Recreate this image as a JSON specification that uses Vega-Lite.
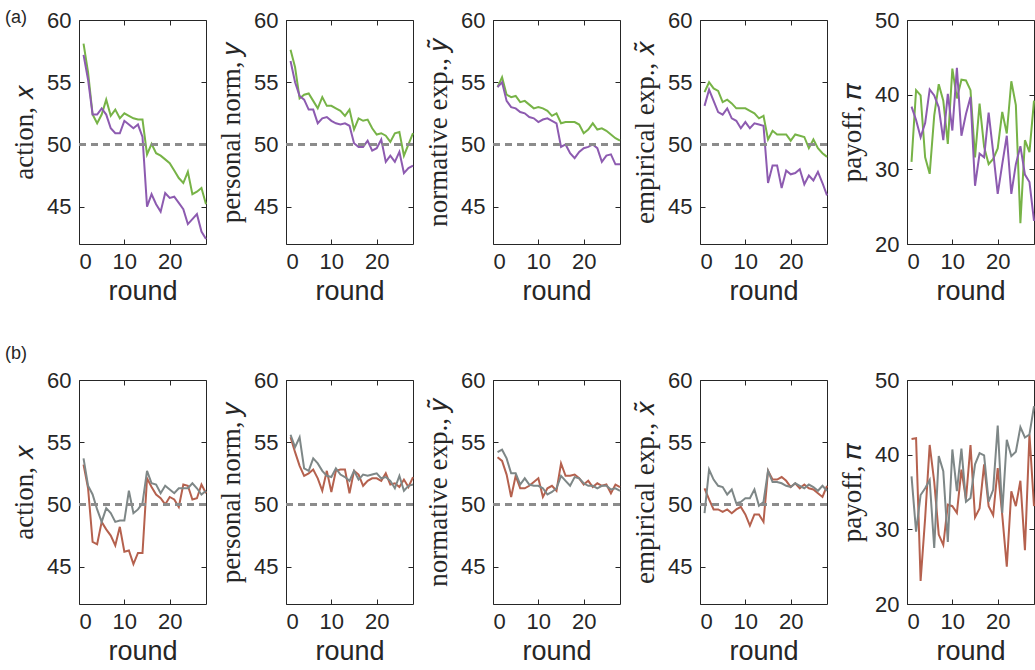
{
"$schema":"https://vega.github.io/schema/vega-lite/v6.json",
"autosize":{"type":"pad"},
"padding":{"left":4,"top":8,"right":0,"bottom":0},
"background":"white",
"datasets":{
"one":[{"k":1}],
"a1":[{"r":1,"a":58.1,"b":57.2},{"r":2,"a":55.8,"b":55.2},{"r":3,"a":52.4,"b":52.4},{"r":4,"a":51.7,"b":52.4},{"r":5,"a":52.4,"b":52.9},{"r":6,"a":53.6,"b":52.4},{"r":7,"a":52.3,"b":51.3},{"r":8,"a":52.8,"b":50.9},{"r":9,"a":52.1,"b":50.9},{"r":10,"a":52.5,"b":51.9},{"r":11,"a":52.3,"b":51.6},{"r":12,"a":52.1,"b":51.3},{"r":13,"a":52.0,"b":51.6},{"r":14,"a":52.0,"b":50.6},{"r":15,"a":49.2,"b":45.0},{"r":16,"a":50.05,"b":46.0},{"r":17,"a":49.3,"b":45.2},{"r":18,"a":49.1,"b":44.6},{"r":19,"a":48.8,"b":46.1},{"r":20,"a":48.5,"b":45.7},{"r":21,"a":47.9,"b":45.8},{"r":22,"a":47.3,"b":45.3},{"r":23,"a":46.9,"b":44.8},{"r":24,"a":47.8,"b":43.6},{"r":25,"a":46.0,"b":44.0},{"r":26,"a":46.2,"b":44.4},{"r":27,"a":46.5,"b":43.0},{"r":28,"a":45.2,"b":42.4}],
"a2":[{"r":1,"a":57.6,"b":56.7},{"r":2,"a":56.2,"b":55.0},{"r":3,"a":53.7,"b":53.9},{"r":4,"a":54.0,"b":53.6},{"r":5,"a":54.1,"b":52.8},{"r":6,"a":53.5,"b":52.8},{"r":7,"a":52.9,"b":51.7},{"r":8,"a":53.8,"b":52.1},{"r":9,"a":53.1,"b":52.2},{"r":10,"a":53.1,"b":51.9},{"r":11,"a":52.9,"b":51.7},{"r":12,"a":52.7,"b":51.6},{"r":13,"a":52.3,"b":51.7},{"r":14,"a":52.8,"b":51.5},{"r":15,"a":51.2,"b":50.1},{"r":16,"a":52.1,"b":49.8},{"r":17,"a":51.9,"b":49.8},{"r":18,"a":52.0,"b":50.3},{"r":19,"a":51.3,"b":49.5},{"r":20,"a":50.8,"b":49.7},{"r":21,"a":50.9,"b":50.4},{"r":22,"a":50.7,"b":48.6},{"r":23,"a":50.2,"b":49.1},{"r":24,"a":50.9,"b":48.6},{"r":25,"a":51.0,"b":49.4},{"r":26,"a":49.1,"b":47.7},{"r":27,"a":50.0,"b":48.1},{"r":28,"a":50.9,"b":48.3}],
"a3":[{"r":1,"a":54.6,"b":54.6},{"r":2,"a":55.4,"b":55.0},{"r":3,"a":54.0,"b":53.5},{"r":4,"a":53.8,"b":53.0},{"r":5,"a":53.9,"b":52.9},{"r":6,"a":53.4,"b":52.6},{"r":7,"a":53.5,"b":52.5},{"r":8,"a":53.2,"b":52.2},{"r":9,"a":52.9,"b":52.1},{"r":10,"a":53.0,"b":51.8},{"r":11,"a":52.9,"b":52.0},{"r":12,"a":52.7,"b":52.1},{"r":13,"a":52.3,"b":51.9},{"r":14,"a":52.5,"b":51.7},{"r":15,"a":51.7,"b":49.8},{"r":16,"a":51.8,"b":50.0},{"r":17,"a":51.8,"b":49.3},{"r":18,"a":51.8,"b":48.9},{"r":19,"a":51.6,"b":49.4},{"r":20,"a":50.9,"b":49.7},{"r":21,"a":51.2,"b":49.8},{"r":22,"a":51.7,"b":50.0},{"r":23,"a":51.2,"b":49.7},{"r":24,"a":51.3,"b":48.6},{"r":25,"a":51.1,"b":49.1},{"r":26,"a":50.8,"b":49.2},{"r":27,"a":50.5,"b":48.4},{"r":28,"a":50.3,"b":48.4}],
"a4":[{"r":1,"a":54.2,"b":53.1},{"r":2,"a":55.0,"b":54.4},{"r":3,"a":54.5,"b":53.5},{"r":4,"a":54.3,"b":52.6},{"r":5,"a":53.4,"b":52.4},{"r":6,"a":53.6,"b":52.9},{"r":7,"a":53.3,"b":52.1},{"r":8,"a":52.9,"b":51.9},{"r":9,"a":52.9,"b":51.3},{"r":10,"a":52.9,"b":51.8},{"r":11,"a":52.7,"b":51.3},{"r":12,"a":52.5,"b":51.7},{"r":13,"a":52.1,"b":51.6},{"r":14,"a":52.3,"b":51.5},{"r":15,"a":50.4,"b":46.9},{"r":16,"a":51.1,"b":48.3},{"r":17,"a":50.8,"b":48.3},{"r":18,"a":50.8,"b":46.5},{"r":19,"a":50.8,"b":47.9},{"r":20,"a":50.3,"b":47.6},{"r":21,"a":50.8,"b":47.7},{"r":22,"a":50.7,"b":48.0},{"r":23,"a":50.6,"b":46.8},{"r":24,"a":49.7,"b":47.5},{"r":25,"a":50.4,"b":47.1},{"r":26,"a":49.7,"b":47.8},{"r":27,"a":49.3,"b":46.9},{"r":28,"a":49.0,"b":45.9}],
"a5":[{"r":1,"a":31.0,"b":38.4},{"r":2,"a":40.6,"b":36.6},{"r":3,"a":39.9,"b":34.3},{"r":4,"a":31.6,"b":36.2},{"r":5,"a":29.4,"b":40.7},{"r":6,"a":37.2,"b":39.9},{"r":7,"a":41.4,"b":38.3},{"r":8,"a":39.2,"b":33.9},{"r":9,"a":33.4,"b":40.1},{"r":10,"a":43.5,"b":35.2},{"r":11,"a":39.5,"b":43.6},{"r":12,"a":42.0,"b":34.5},{"r":13,"a":41.9,"b":37.4},{"r":14,"a":40.6,"b":39.7},{"r":15,"a":31.6,"b":27.8},{"r":16,"a":38.8,"b":32.1},{"r":17,"a":33.0,"b":31.6},{"r":18,"a":30.7,"b":37.6},{"r":19,"a":31.4,"b":32.3},{"r":20,"a":32.8,"b":26.7},{"r":21,"a":37.7,"b":30.7},{"r":22,"a":34.8,"b":34.5},{"r":23,"a":41.8,"b":26.7},{"r":24,"a":38.6,"b":30.7},{"r":25,"a":22.8,"b":33.1},{"r":26,"a":33.9,"b":29.3},{"r":27,"a":32.3,"b":28.3},{"r":28,"a":39.2,"b":23.1}],
"b1":[{"r":1,"a":53.2,"b":53.7},{"r":2,"a":51.3,"b":51.5},{"r":3,"a":47.0,"b":50.8},{"r":4,"a":46.8,"b":49.6},{"r":5,"a":48.6,"b":48.6},{"r":6,"a":48.0,"b":49.7},{"r":7,"a":47.5,"b":49.3},{"r":8,"a":46.7,"b":48.6},{"r":9,"a":48.2,"b":48.7},{"r":10,"a":46.2,"b":48.7},{"r":11,"a":46.3,"b":51.1},{"r":12,"a":45.2,"b":49.3},{"r":13,"a":46.1,"b":49.6},{"r":14,"a":46.1,"b":50.1},{"r":15,"a":52.1,"b":52.7},{"r":16,"a":51.4,"b":51.7},{"r":17,"a":50.8,"b":51.6},{"r":18,"a":50.5,"b":50.9},{"r":19,"a":50.0,"b":51.5},{"r":20,"a":50.6,"b":51.2},{"r":21,"a":50.4,"b":50.9},{"r":22,"a":49.8,"b":51.3},{"r":23,"a":51.6,"b":51.3},{"r":24,"a":51.5,"b":51.3},{"r":25,"a":50.4,"b":51.7},{"r":26,"a":50.5,"b":51.3},{"r":27,"a":51.6,"b":50.8},{"r":28,"a":50.9,"b":51.1}],
"b2":[{"r":1,"a":55.4,"b":55.6},{"r":2,"a":54.2,"b":54.6},{"r":3,"a":53.1,"b":55.4},{"r":4,"a":52.3,"b":52.9},{"r":5,"a":52.5,"b":52.7},{"r":6,"a":52.8,"b":53.7},{"r":7,"a":52.1,"b":53.3},{"r":8,"a":51.1,"b":52.7},{"r":9,"a":52.7,"b":52.3},{"r":10,"a":51.0,"b":52.2},{"r":11,"a":52.7,"b":52.9},{"r":12,"a":52.8,"b":52.4},{"r":13,"a":52.8,"b":52.2},{"r":14,"a":50.9,"b":51.9},{"r":15,"a":52.7,"b":52.7},{"r":16,"a":52.4,"b":52.0},{"r":17,"a":51.5,"b":52.4},{"r":18,"a":51.9,"b":52.3},{"r":19,"a":52.1,"b":52.4},{"r":20,"a":52.1,"b":52.5},{"r":21,"a":51.9,"b":52.1},{"r":22,"a":52.5,"b":52.2},{"r":23,"a":51.6,"b":51.9},{"r":24,"a":51.7,"b":51.3},{"r":25,"a":51.4,"b":52.3},{"r":26,"a":52.0,"b":51.1},{"r":27,"a":51.4,"b":51.5},{"r":28,"a":52.2,"b":51.6}],
"b3":[{"r":1,"a":53.8,"b":54.2},{"r":2,"a":53.5,"b":54.4},{"r":3,"a":52.4,"b":53.7},{"r":4,"a":50.6,"b":52.5},{"r":5,"a":52.3,"b":52.5},{"r":6,"a":51.3,"b":51.6},{"r":7,"a":51.3,"b":52.1},{"r":8,"a":51.5,"b":51.6},{"r":9,"a":51.8,"b":51.5},{"r":10,"a":52.1,"b":51.5},{"r":11,"a":50.6,"b":51.3},{"r":12,"a":51.3,"b":50.8},{"r":13,"a":51.5,"b":51.0},{"r":14,"a":51.1,"b":51.3},{"r":15,"a":53.3,"b":52.3},{"r":16,"a":52.3,"b":51.9},{"r":17,"a":52.3,"b":51.5},{"r":18,"a":52.4,"b":52.2},{"r":19,"a":52.1,"b":52.1},{"r":20,"a":51.6,"b":51.7},{"r":21,"a":51.9,"b":51.5},{"r":22,"a":51.4,"b":51.5},{"r":23,"a":51.7,"b":51.3},{"r":24,"a":51.5,"b":51.5},{"r":25,"a":51.6,"b":51.5},{"r":26,"a":50.9,"b":51.2},{"r":27,"a":51.6,"b":51.3},{"r":28,"a":51.4,"b":51.1}],
"b4":[{"r":1,"a":51.3,"b":49.3},{"r":2,"a":50.4,"b":52.8},{"r":3,"a":49.6,"b":52.0},{"r":4,"a":49.6,"b":51.5},{"r":5,"a":49.4,"b":51.4},{"r":6,"a":49.6,"b":50.8},{"r":7,"a":49.3,"b":51.2},{"r":8,"a":49.6,"b":50.1},{"r":9,"a":49.8,"b":50.2},{"r":10,"a":49.2,"b":50.5},{"r":11,"a":48.3,"b":50.5},{"r":12,"a":49.2,"b":51.2},{"r":13,"a":49.2,"b":49.9},{"r":14,"a":48.6,"b":50.2},{"r":15,"a":52.7,"b":52.7},{"r":16,"a":52.0,"b":51.8},{"r":17,"a":52.0,"b":51.8},{"r":18,"a":52.2,"b":51.7},{"r":19,"a":51.9,"b":51.5},{"r":20,"a":51.4,"b":51.4},{"r":21,"a":51.7,"b":51.7},{"r":22,"a":51.3,"b":51.5},{"r":23,"a":51.6,"b":51.3},{"r":24,"a":51.3,"b":51.6},{"r":25,"a":51.2,"b":51.4},{"r":26,"a":50.9,"b":51.1},{"r":27,"a":50.6,"b":51.5},{"r":28,"a":51.5,"b":51.1}],
"b5":[{"r":1,"a":42.1,"b":37.1},{"r":2,"a":42.2,"b":29.7},{"r":3,"a":23.1,"b":34.6},{"r":4,"a":31.5,"b":35.5},{"r":5,"a":41.3,"b":36.6},{"r":6,"a":36.4,"b":27.5},{"r":7,"a":29.3,"b":39.8},{"r":8,"a":27.9,"b":37.8},{"r":9,"a":33.3,"b":28.3},{"r":10,"a":33.1,"b":40.7},{"r":11,"a":32.2,"b":35.1},{"r":12,"a":38.0,"b":40.8},{"r":13,"a":34.0,"b":33.7},{"r":14,"a":41.3,"b":34.2},{"r":15,"a":31.6,"b":38.7},{"r":16,"a":32.8,"b":40.2},{"r":17,"a":38.7,"b":39.9},{"r":18,"a":33.1,"b":33.7},{"r":19,"a":31.9,"b":35.3},{"r":20,"a":38.2,"b":43.9},{"r":21,"a":31.9,"b":32.2},{"r":22,"a":25.0,"b":42.0},{"r":23,"a":35.1,"b":39.8},{"r":24,"a":33.1,"b":40.4},{"r":25,"a":36.5,"b":43.7},{"r":26,"a":27.2,"b":42.3},{"r":27,"a":42.7,"b":42.7},{"r":28,"a":33.1,"b":46.5}]
},
"columns":5,
"spacing":{"row":136,"column":80},
"bounds":"flush",
"concat":[
{"width":127,"height":224,"data":{"name":"a1"},"resolve":{"axis":{"x":"independent","y":"independent"}},
 "layer":[
 {"mark":{"type":"line","color":"#77B347","strokeWidth":2},"encoding":{"x":{"field":"r","type":"quantitative","scale":{"domain":[0,28],"nice":false},"axis":{"values":[0,10,20]},"title":"round"},"y":{"field":"a","type":"quantitative","scale":{"domain":[42,60],"nice":false},"axis":{"values":[45,50,55,60]},"title":"action, 𝑥"}}},
 {"mark":{"type":"line","color":"#8D5BB0","strokeWidth":2},"encoding":{"x":{"field":"r","type":"quantitative","axis":{"orient":"top","labels":false,"values":[0,10,20],"title":null}},"y":{"field":"b","type":"quantitative","axis":{"orient":"right","labels":false,"values":[45,50,55,60],"title":null}}}},
 {"mark":{"type":"rule","color":"#8C8C8C","strokeWidth":2,"strokeDash":[7,5]},"encoding":{"y":{"datum":50,"axis":null}}},
 {"data":{"name":"one"},"mark":{"type":"text","text":"(a)","align":"left","baseline":"alphabetic","fontSize":18,"font":"Liberation Sans","color":"#262626"},"encoding":{"x":{"datum":-16.3,"axis":null},"y":{"datum":59.76,"axis":null}}}
 ]},
{"width":127,"height":224,"data":{"name":"a2"},"resolve":{"axis":{"x":"independent","y":"independent"}},
 "layer":[
 {"mark":{"type":"line","color":"#77B347","strokeWidth":2},"encoding":{"x":{"field":"r","type":"quantitative","scale":{"domain":[0,28],"nice":false},"axis":{"values":[0,10,20]},"title":"round"},"y":{"field":"a","type":"quantitative","scale":{"domain":[42,60],"nice":false},"axis":{"values":[45,50,55,60]},"title":"personal norm, 𝑦"}}},
 {"mark":{"type":"line","color":"#8D5BB0","strokeWidth":2},"encoding":{"x":{"field":"r","type":"quantitative","axis":{"orient":"top","labels":false,"values":[0,10,20],"title":null}},"y":{"field":"b","type":"quantitative","axis":{"orient":"right","labels":false,"values":[45,50,55,60],"title":null}}}},
 {"mark":{"type":"rule","color":"#8C8C8C","strokeWidth":2,"strokeDash":[7,5]},"encoding":{"y":{"datum":50,"axis":null}}}
 ]},
{"width":127,"height":224,"data":{"name":"a3"},"resolve":{"axis":{"x":"independent","y":"independent"}},
 "layer":[
 {"mark":{"type":"line","color":"#77B347","strokeWidth":2},"encoding":{"x":{"field":"r","type":"quantitative","scale":{"domain":[0,28],"nice":false},"axis":{"values":[0,10,20]},"title":"round"},"y":{"field":"a","type":"quantitative","scale":{"domain":[42,60],"nice":false},"axis":{"values":[45,50,55,60]},"title":"normative exp., 𝑦̃"}}},
 {"mark":{"type":"line","color":"#8D5BB0","strokeWidth":2},"encoding":{"x":{"field":"r","type":"quantitative","axis":{"orient":"top","labels":false,"values":[0,10,20],"title":null}},"y":{"field":"b","type":"quantitative","axis":{"orient":"right","labels":false,"values":[45,50,55,60],"title":null}}}},
 {"mark":{"type":"rule","color":"#8C8C8C","strokeWidth":2,"strokeDash":[7,5]},"encoding":{"y":{"datum":50,"axis":null}}}
 ]},
{"width":127,"height":224,"data":{"name":"a4"},"resolve":{"axis":{"x":"independent","y":"independent"}},
 "layer":[
 {"mark":{"type":"line","color":"#77B347","strokeWidth":2},"encoding":{"x":{"field":"r","type":"quantitative","scale":{"domain":[0,28],"nice":false},"axis":{"values":[0,10,20]},"title":"round"},"y":{"field":"a","type":"quantitative","scale":{"domain":[42,60],"nice":false},"axis":{"values":[45,50,55,60]},"title":"empirical exp., 𝑥̃"}}},
 {"mark":{"type":"line","color":"#8D5BB0","strokeWidth":2},"encoding":{"x":{"field":"r","type":"quantitative","axis":{"orient":"top","labels":false,"values":[0,10,20],"title":null}},"y":{"field":"b","type":"quantitative","axis":{"orient":"right","labels":false,"values":[45,50,55,60],"title":null}}}},
 {"mark":{"type":"rule","color":"#8C8C8C","strokeWidth":2,"strokeDash":[7,5]},"encoding":{"y":{"datum":50,"axis":null}}}
 ]},
{"width":127,"height":224,"data":{"name":"a5"},"resolve":{"axis":{"x":"independent","y":"independent"}},
 "layer":[
 {"mark":{"type":"line","color":"#77B347","strokeWidth":2},"encoding":{"x":{"field":"r","type":"quantitative","scale":{"domain":[0,28],"nice":false},"axis":{"values":[0,10,20]},"title":"round"},"y":{"field":"a","type":"quantitative","scale":{"domain":[20,50],"nice":false},"axis":{"values":[20,30,40,50]},"title":"payoff, 𝜋"}}},
 {"mark":{"type":"line","color":"#8D5BB0","strokeWidth":2},"encoding":{"x":{"field":"r","type":"quantitative","axis":{"orient":"top","labels":false,"values":[0,10,20],"title":null}},"y":{"field":"b","type":"quantitative","axis":{"orient":"right","labels":false,"values":[20,30,40,50],"title":null}}}}
 ]},
{"width":127,"height":224,"data":{"name":"b1"},"resolve":{"axis":{"x":"independent","y":"independent"}},
 "layer":[
 {"mark":{"type":"line","color":"#B5614E","strokeWidth":2},"encoding":{"x":{"field":"r","type":"quantitative","scale":{"domain":[0,28],"nice":false},"axis":{"values":[0,10,20]},"title":"round"},"y":{"field":"a","type":"quantitative","scale":{"domain":[42,60],"nice":false},"axis":{"values":[45,50,55,60]},"title":"action, 𝑥"}}},
 {"mark":{"type":"line","color":"#7E8787","strokeWidth":2},"encoding":{"x":{"field":"r","type":"quantitative","axis":{"orient":"top","labels":false,"values":[0,10,20],"title":null}},"y":{"field":"b","type":"quantitative","axis":{"orient":"right","labels":false,"values":[45,50,55,60],"title":null}}}},
 {"mark":{"type":"rule","color":"#8C8C8C","strokeWidth":2,"strokeDash":[7,5]},"encoding":{"y":{"datum":50,"axis":null}}},
 {"data":{"name":"one"},"mark":{"type":"text","text":"(b)","align":"left","baseline":"alphabetic","fontSize":18,"font":"Liberation Sans","color":"#262626"},"encoding":{"x":{"datum":-16.3,"axis":null},"y":{"datum":61.69,"axis":null}}}
 ]},
{"width":127,"height":224,"data":{"name":"b2"},"resolve":{"axis":{"x":"independent","y":"independent"}},
 "layer":[
 {"mark":{"type":"line","color":"#B5614E","strokeWidth":2},"encoding":{"x":{"field":"r","type":"quantitative","scale":{"domain":[0,28],"nice":false},"axis":{"values":[0,10,20]},"title":"round"},"y":{"field":"a","type":"quantitative","scale":{"domain":[42,60],"nice":false},"axis":{"values":[45,50,55,60]},"title":"personal norm, 𝑦"}}},
 {"mark":{"type":"line","color":"#7E8787","strokeWidth":2},"encoding":{"x":{"field":"r","type":"quantitative","axis":{"orient":"top","labels":false,"values":[0,10,20],"title":null}},"y":{"field":"b","type":"quantitative","axis":{"orient":"right","labels":false,"values":[45,50,55,60],"title":null}}}},
 {"mark":{"type":"rule","color":"#8C8C8C","strokeWidth":2,"strokeDash":[7,5]},"encoding":{"y":{"datum":50,"axis":null}}}
 ]},
{"width":127,"height":224,"data":{"name":"b3"},"resolve":{"axis":{"x":"independent","y":"independent"}},
 "layer":[
 {"mark":{"type":"line","color":"#B5614E","strokeWidth":2},"encoding":{"x":{"field":"r","type":"quantitative","scale":{"domain":[0,28],"nice":false},"axis":{"values":[0,10,20]},"title":"round"},"y":{"field":"a","type":"quantitative","scale":{"domain":[42,60],"nice":false},"axis":{"values":[45,50,55,60]},"title":"normative exp., 𝑦̃"}}},
 {"mark":{"type":"line","color":"#7E8787","strokeWidth":2},"encoding":{"x":{"field":"r","type":"quantitative","axis":{"orient":"top","labels":false,"values":[0,10,20],"title":null}},"y":{"field":"b","type":"quantitative","axis":{"orient":"right","labels":false,"values":[45,50,55,60],"title":null}}}},
 {"mark":{"type":"rule","color":"#8C8C8C","strokeWidth":2,"strokeDash":[7,5]},"encoding":{"y":{"datum":50,"axis":null}}}
 ]},
{"width":127,"height":224,"data":{"name":"b4"},"resolve":{"axis":{"x":"independent","y":"independent"}},
 "layer":[
 {"mark":{"type":"line","color":"#B5614E","strokeWidth":2},"encoding":{"x":{"field":"r","type":"quantitative","scale":{"domain":[0,28],"nice":false},"axis":{"values":[0,10,20]},"title":"round"},"y":{"field":"a","type":"quantitative","scale":{"domain":[42,60],"nice":false},"axis":{"values":[45,50,55,60]},"title":"empirical exp., 𝑥̃"}}},
 {"mark":{"type":"line","color":"#7E8787","strokeWidth":2},"encoding":{"x":{"field":"r","type":"quantitative","axis":{"orient":"top","labels":false,"values":[0,10,20],"title":null}},"y":{"field":"b","type":"quantitative","axis":{"orient":"right","labels":false,"values":[45,50,55,60],"title":null}}}},
 {"mark":{"type":"rule","color":"#8C8C8C","strokeWidth":2,"strokeDash":[7,5]},"encoding":{"y":{"datum":50,"axis":null}}}
 ]},
{"width":127,"height":224,"data":{"name":"b5"},"resolve":{"axis":{"x":"independent","y":"independent"}},
 "layer":[
 {"mark":{"type":"line","color":"#B5614E","strokeWidth":2},"encoding":{"x":{"field":"r","type":"quantitative","scale":{"domain":[0,28],"nice":false},"axis":{"values":[0,10,20]},"title":"round"},"y":{"field":"a","type":"quantitative","scale":{"domain":[20,50],"nice":false},"axis":{"values":[20,30,40,50]},"title":"payoff, 𝜋"}}},
 {"mark":{"type":"line","color":"#7E8787","strokeWidth":2},"encoding":{"x":{"field":"r","type":"quantitative","axis":{"orient":"top","labels":false,"values":[0,10,20],"title":null}},"y":{"field":"b","type":"quantitative","axis":{"orient":"right","labels":false,"values":[20,30,40,50],"title":null}}}}
 ]}
],
"config":{
 "view":{"stroke":"#262626","strokeWidth":1},
 "axis":{"grid":false,"domain":false,"tickColor":"#262626","tickSize":-5,"labelFont":"Liberation Sans","labelFontSize":22,"labelColor":"#262626","titleFontWeight":"normal","titleColor":"#262626"},
 "axisX":{"labelPadding":12,"titleFont":"Liberation Sans","titleFontSize":27,"titlePadding":6},
 "axisY":{"labelPadding":13,"titleFont":"Liberation Serif","titleFontSize":27,"titlePadding":8}
}
}
